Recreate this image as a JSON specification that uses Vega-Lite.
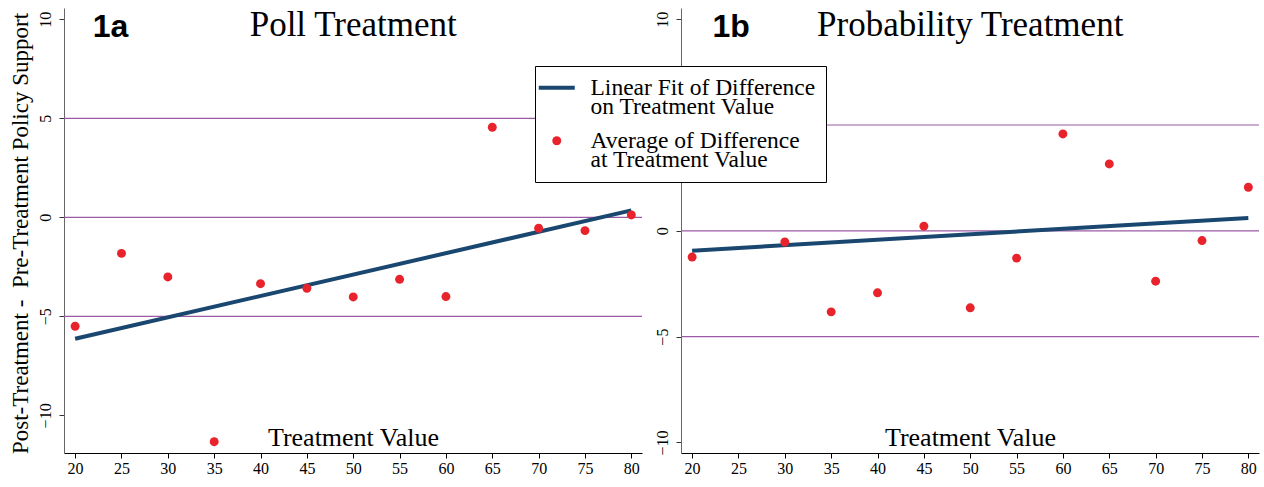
{
  "$schema": "https://vega.github.io/schema/vega-lite/v6.json",
  "padding": {"left": 8, "top": 7, "right": 0, "bottom": 0},
  "bounds": "flush",
  "spacing": 39,
  "background": "white",
  "config": {
    "view": {"stroke": null},
    "font": "Liberation Serif",
    "axis": {
      "labelFont": "Liberation Serif",
      "labelFontSize": 16,
      "labelColor": "black",
      "titleFont": "Liberation Serif",
      "titleFontWeight": "normal",
      "titleColor": "black",
      "grid": false,
      "tickSize": 5
    }
  },
  "datasets": {
    "poll": [
      {"treatment": 20, "difference": -5.5, "series": "avg"},
      {"treatment": 25, "difference": -1.82, "series": "avg"},
      {"treatment": 30, "difference": -3.01, "series": "avg"},
      {"treatment": 35, "difference": -11.33, "series": "avg"},
      {"treatment": 40, "difference": -3.35, "series": "avg"},
      {"treatment": 45, "difference": -3.58, "series": "avg"},
      {"treatment": 50, "difference": -4.02, "series": "avg"},
      {"treatment": 55, "difference": -3.13, "series": "avg"},
      {"treatment": 60, "difference": -4.0, "series": "avg"},
      {"treatment": 65, "difference": 4.55, "series": "avg"},
      {"treatment": 70, "difference": -0.55, "series": "avg"},
      {"treatment": 75, "difference": -0.67, "series": "avg"},
      {"treatment": 80, "difference": 0.12, "series": "avg"},
      {"treatment": 20, "difference": -6.13, "series": "fit"},
      {"treatment": 80, "difference": 0.35, "series": "fit"}
    ],
    "prob": [
      {"treatment": 20, "difference": -1.24, "series": "avg"},
      {"treatment": 30, "difference": -0.53, "series": "avg"},
      {"treatment": 35, "difference": -3.83, "series": "avg"},
      {"treatment": 40, "difference": -2.93, "series": "avg"},
      {"treatment": 45, "difference": 0.22, "series": "avg"},
      {"treatment": 50, "difference": -3.64, "series": "avg"},
      {"treatment": 55, "difference": -1.29, "series": "avg"},
      {"treatment": 60, "difference": 4.58, "series": "avg"},
      {"treatment": 65, "difference": 3.16, "series": "avg"},
      {"treatment": 70, "difference": -2.38, "series": "avg"},
      {"treatment": 75, "difference": -0.46, "series": "avg"},
      {"treatment": 80, "difference": 2.06, "series": "avg"},
      {"treatment": 20, "difference": -0.94, "series": "fit"},
      {"treatment": 80, "difference": 0.61, "series": "fit"}
    ],
    "refs": [{"ref": 5}, {"ref": 0}, {"ref": -5}]
  },
  "resolve": {"scale": {"color": "shared"}, "legend": {"color": "shared"}},
  "hconcat": [
    {
      "width": 578,
      "height": 445,
      "layer": [
        {
          "data": {"name": "refs"},
          "mark": {"type": "rule", "color": "#9b5aa6", "strokeWidth": 1.2},
          "encoding": {"y": {"field": "ref", "type": "quantitative", "scale": {"domain": [-11.9, 10.57], "nice": false, "zero": false}}}
        },
        {
          "data": {"name": "poll"},
          "transform": [{"filter": "datum.series === 'fit'"}],
          "mark": {"type": "line", "strokeWidth": 4},
          "encoding": {
            "x": {"field": "treatment", "type": "quantitative"},
            "y": {"field": "difference", "type": "quantitative"},
            "color": {
              "field": "series",
              "type": "nominal",
              "scale": {"domain": ["fit", "avg"], "range": ["#1a476f", "#e8232b"]},
              "legend": {
                "title": null,
                "orient": "none",
                "legendX": 471,
                "legendY": 58,
                "direction": "vertical",
                "strokeColor": "black",
                "fillColor": "white",
                "padding": 10,
                "rowPadding": 9,
                "symbolType": "stroke",
                "symbolSize": 1296,
                "labelFont": "Liberation Serif",
                "labelFontSize": 23.5,
                "labelColor": "black",
                "labelLimit": 400,
                "labelOffset": 22,
                "labelExpr": "datum.value === 'fit' ? ['Linear Fit of Difference', 'on Treatment Value'] : ['Average of Difference', 'at Treatment Value']",
                "encode": {
                  "symbols": {
                    "update": {
                      "shape": {"signal": "datum.value === 'fit' ? 'stroke' : 'circle'"},
                      "size": {"signal": "datum.value === 'fit' ? 1296 : 80"},
                      "stroke": {"signal": "datum.value === 'fit' ? '#1a476f' : 'transparent'"},
                      "strokeWidth": {"signal": "datum.value === 'fit' ? 4 : 0"},
                      "fill": {"signal": "datum.value === 'fit' ? 'transparent' : '#e8232b'"},
                      "opacity": {"value": 1}
                    }
                  },
                  "labels": {"update": {"lineHeight": {"value": 19}}}
                }
              }
            }
          }
        },
        {
          "data": {"name": "poll"},
          "transform": [{"filter": "datum.series === 'avg'"}],
          "mark": {"type": "point", "filled": true, "opacity": 1, "size": 80},
          "encoding": {
            "x": {"field": "treatment", "type": "quantitative"},
            "y": {"field": "difference", "type": "quantitative"},
            "color": {"field": "series", "type": "nominal"}
          }
        },
        {
          "data": {"values": [{}]},
          "mark": {"type": "text", "font": "Liberation Sans", "fontWeight": "bold", "fontSize": 32, "align": "left", "baseline": "alphabetic", "color": "black"},
          "encoding": {"x": {"datum": 21.9}, "y": {"datum": 9.11}, "text": {"value": "1a"}}
        },
        {
          "data": {"values": [{}]},
          "mark": {"type": "text", "font": "Liberation Serif", "fontSize": 35, "align": "center", "baseline": "alphabetic", "color": "black"},
          "encoding": {"x": {"datum": 50}, "y": {"datum": 9.16}, "text": {"value": "Poll Treatment"}}
        }
      ],
      "encoding": {
        "x": {
          "type": "quantitative",
          "scale": {"domain": [18.8, 81.15], "nice": false, "zero": false},
          "axis": {
            "values": [20, 25, 30, 35, 40, 45, 50, 55, 60, 65, 70, 75, 80],
            "title": "Treatment Value",
            "titleFontSize": 26,
            "titleY": -8,
            "titleBaseline": "alphabetic",
            "domainColor": "black",
            "tickColor": "black",
            "labelPadding": 2
          }
        },
        "y": {
          "type": "quantitative",
          "scale": {"domain": [-11.9, 10.57], "nice": false, "zero": false},
          "axis": {
            "values": [-10, -5, 0, 5, 10],
            "title": "Post-Treatment -\u00a0 Pre-Treatment Policy Support",
            "titleFontSize": 23,
            "titleAngle": -90,
            "titleX": -44,
            "titleY": 225,
            "titleAlign": "center",
            "titleBaseline": "middle",
            "labelAngle": -90,
            "labelAlign": "center",
            "labelBaseline": "bottom",
            "labelPadding": 6,
            "domainColor": "#666666",
            "tickColor": "#333333"
          }
        }
      }
    },
    {
      "width": 578,
      "height": 445,
      "layer": [
        {
          "data": {"name": "refs"},
          "mark": {"type": "rule", "color": "#9b5aa6", "strokeWidth": 1.2},
          "encoding": {"y": {"field": "ref", "type": "quantitative", "scale": {"domain": [-10.5, 10.53], "nice": false, "zero": false}}}
        },
        {
          "data": {"name": "prob"},
          "transform": [{"filter": "datum.series === 'fit'"}],
          "mark": {"type": "line", "strokeWidth": 4},
          "encoding": {
            "x": {"field": "treatment", "type": "quantitative"},
            "y": {"field": "difference", "type": "quantitative"},
            "color": {"field": "series", "type": "nominal", "scale": {"domain": ["fit", "avg"], "range": ["#1a476f", "#e8232b"]}}
          }
        },
        {
          "data": {"name": "prob"},
          "transform": [{"filter": "datum.series === 'avg'"}],
          "mark": {"type": "point", "filled": true, "opacity": 1, "size": 80},
          "encoding": {
            "x": {"field": "treatment", "type": "quantitative"},
            "y": {"field": "difference", "type": "quantitative"},
            "color": {"field": "series", "type": "nominal"}
          }
        },
        {
          "data": {"values": [{}]},
          "mark": {"type": "text", "font": "Liberation Sans", "fontWeight": "bold", "fontSize": 32, "align": "left", "baseline": "alphabetic", "color": "black"},
          "encoding": {"x": {"datum": 22.2}, "y": {"datum": 9.16}, "text": {"value": "1b"}}
        },
        {
          "data": {"values": [{}]},
          "mark": {"type": "text", "font": "Liberation Serif", "fontSize": 35, "align": "center", "baseline": "alphabetic", "color": "black"},
          "encoding": {"x": {"datum": 50}, "y": {"datum": 9.21}, "text": {"value": "Probability Treatment"}}
        }
      ],
      "encoding": {
        "x": {
          "type": "quantitative",
          "scale": {"domain": [18.8, 81.15], "nice": false, "zero": false},
          "axis": {
            "values": [20, 25, 30, 35, 40, 45, 50, 55, 60, 65, 70, 75, 80],
            "title": "Treatment Value",
            "titleFontSize": 26,
            "titleY": -8,
            "titleBaseline": "alphabetic",
            "domainColor": "black",
            "tickColor": "black",
            "labelPadding": 2
          }
        },
        "y": {
          "type": "quantitative",
          "scale": {"domain": [-10.5, 10.53], "nice": false, "zero": false},
          "axis": {
            "values": [-10, -5, 0, 5, 10],
            "title": null,
            "labelAngle": -90,
            "labelAlign": "center",
            "labelBaseline": "bottom",
            "labelPadding": 6,
            "domainColor": "#666666",
            "tickColor": "#333333"
          }
        }
      }
    }
  ]
}
